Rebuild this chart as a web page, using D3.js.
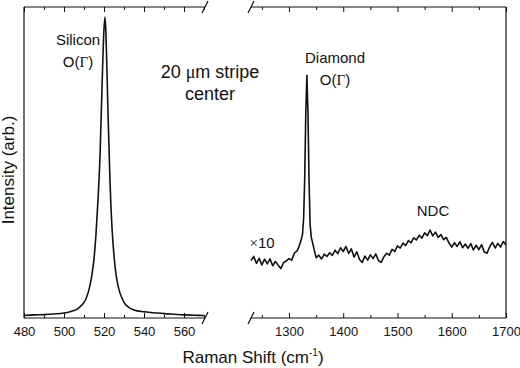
<!DOCTYPE html>
<html>
<head>
<meta charset="utf-8">
<script src="https://cdn.jsdelivr.net/npm/d3@7"></script>
<style>
  body { margin: 0; background: #fff; }
  text { font-family: "Liberation Sans", Arial, sans-serif; fill: #111; }
  .serif { font-family: "Liberation Serif", "Times New Roman", serif; }
  .axis text { font-size: 13px; }
  .axis line { stroke: #111; stroke-width: 1; }
</style>
</head>
<body>
<svg id="chart" width="520" height="368"></svg>
<script>
// silicon region, Raman shift (cm-1) and intensity (arb., 0-100)
var siShift = [480, 485, 490, 495, 500, 503, 505, 507, 508, 510, 511, 512, 513, 514, 515, 516, 517, 518, 519, 520, 520.5,
  521, 522, 523, 524, 525, 526, 527, 528, 529, 530, 532, 535, 540, 545, 550, 555, 560, 565, 570];
var siVal = [0.8, 1.0, 1.1, 1.3, 1.6, 2.0, 2.4, 3.0, 3.6, 5.0, 6.2, 8.0, 10.5, 14, 19, 27, 38, 52, 74, 93, 96.8,
  91, 66, 44, 29, 20, 14, 10.5, 8.0, 6.4, 5.0, 3.6, 2.6, 2.0, 1.7, 1.4, 1.2, 1.0, 0.9, 0.8];

// diamond region (x10)
var dShift = [1230, 1235, 1240, 1245, 1250, 1255, 1260, 1265, 1270, 1275, 1280, 1285, 1290, 1295, 1300, 1305,
  1310, 1315, 1318, 1322, 1325, 1327, 1329, 1331, 1333, 1335, 1337, 1339, 1341, 1343, 1346, 1350,
  1355, 1360, 1365, 1370, 1375, 1380, 1385, 1390, 1395, 1400, 1405, 1410, 1415, 1420, 1425, 1430,
  1435, 1440, 1445, 1450, 1455, 1460, 1465, 1470, 1475, 1480, 1485, 1490, 1495, 1500, 1505, 1510,
  1515, 1520, 1525, 1530, 1535, 1540, 1545, 1550, 1555, 1560, 1565, 1570, 1575, 1580, 1585, 1590,
  1595, 1600, 1605, 1610, 1615, 1620, 1625, 1630, 1635, 1640, 1645, 1650, 1655, 1660, 1665, 1670,
  1675, 1680, 1685, 1690, 1695, 1700];
var dVal = [18.5, 19.8, 17.6, 19.2, 17.1, 18.9, 17.4, 19.0, 16.8, 18.2, 17.0, 15.9, 17.8, 18.4, 19.1, 18.6,
  20.9, 21.6, 22.8, 24.8, 27, 32, 45, 66, 78, 66, 44, 30, 26, 24.6, 22.3, 19.4,
  20.2, 19.0, 20.5, 19.8, 21.0, 20.1, 21.8, 20.7, 22.6, 21.4, 23.0, 20.8, 22.2, 19.6, 21.3, 18.8,
  17.9, 19.9, 18.6, 20.3, 19.1, 20.6, 18.4, 17.9, 19.7, 20.8, 20.2, 22.1, 21.4, 23.2, 22.5, 24.1,
  23.3, 24.9, 24.2, 25.8, 25.1, 26.6, 25.7, 27.4, 26.5, 28.3, 26.4, 27.6, 25.9, 26.8, 25.2, 25.9,
  24.1, 22.8, 24.2, 23.0, 24.5, 22.6, 23.8, 22.4, 23.9, 21.9, 23.4, 22.0, 23.6, 21.2, 20.8, 22.9,
  24.3, 22.5, 24.0, 22.8, 24.6, 23.5];

var leftMajor = [480, 500, 520, 540, 560];
var leftMinor = [490, 510, 530, 550, 570];
var rightMajor = [1300, 1400, 1500, 1600, 1700];
var rightMinor = [1250, 1350, 1450, 1550, 1650];

var svg = d3.select("#chart");
var yTop = 7, yBot = 318;

var xL = d3.scaleLinear().domain([480, 570.5]).range([24, 205]);
var xR = d3.scaleLinear().domain([1230, 1700]).range([251, 506]);
var y = d3.scaleLinear().domain([0, 100]).range([yBot, yTop]);

function axes(x, major, minor) {
  var g = svg.append("g").attr("class", "axis");
  g.append("g").attr("transform", "translate(0," + yBot + ")")
    .call(d3.axisBottom(x).tickValues(major).tickSize(-5).tickPadding(9).tickFormat(d3.format("d")))
    .call(a => a.select(".domain").remove());
  g.append("g").attr("transform", "translate(0," + yBot + ")")
    .call(d3.axisBottom(x).tickValues(minor).tickSize(-3).tickFormat(""))
    .call(a => a.select(".domain").remove());
  g.append("g").attr("transform", "translate(0," + yTop + ")")
    .call(d3.axisTop(x).tickValues(major).tickSize(-5).tickFormat(""))
    .call(a => a.select(".domain").remove());
  g.append("g").attr("transform", "translate(0," + yTop + ")")
    .call(d3.axisTop(x).tickValues(minor).tickSize(-3).tickFormat(""))
    .call(a => a.select(".domain").remove());
  g.selectAll("text").attr("fill", "#111");
}
axes(xL, leftMajor, leftMinor);
axes(xR, rightMajor, rightMinor);

// frame lines
var frame = svg.append("g").attr("stroke", "#111").attr("stroke-width", 1.2).attr("fill", "none");
var l0 = xL.range()[0], l1 = xL.range()[1], r0 = xR.range()[0], r1 = xR.range()[1];
frame.append("line").attr("x1", l0).attr("x2", l1).attr("y1", yBot).attr("y2", yBot);
frame.append("line").attr("x1", l0).attr("x2", l1).attr("y1", yTop).attr("y2", yTop);
frame.append("line").attr("x1", l0).attr("x2", l0).attr("y1", yTop).attr("y2", yBot);
frame.append("line").attr("x1", r0).attr("x2", r1).attr("y1", yBot).attr("y2", yBot);
frame.append("line").attr("x1", r0).attr("x2", r1).attr("y1", yTop).attr("y2", yTop);
frame.append("line").attr("x1", r1).attr("x2", r1).attr("y1", yTop).attr("y2", yBot);

// break marks
[l1, r0].forEach(function (bx) {
  [yTop, yBot].forEach(function (by) {
    frame.append("line").attr("x1", bx - 3).attr("y1", by + 6).attr("x2", bx + 3).attr("y2", by - 6);
  });
});

// spectra
var lineL = d3.line().curve(d3.curveMonotoneX).x((d, i) => xL(siShift[i])).y(d => y(d));
var lineR = d3.line().x((d, i) => xR(dShift[i])).y(d => y(d));
svg.append("path").attr("d", lineL(siVal)).attr("fill", "none").attr("stroke", "#111").attr("stroke-width", 1.6);
svg.append("path").attr("d", lineR(dVal)).attr("fill", "none").attr("stroke", "#111").attr("stroke-width", 1.6)
  .attr("stroke-linejoin", "round");

// labels
function label(x, yy, size, parts) {
  var t = svg.append("text").attr("x", x).attr("y", yy).attr("text-anchor", "middle").attr("font-size", size);
  parts.forEach(function (p) {
    var s = t.append("tspan").text(p[0]);
    if (p[1]) s.attr("class", "serif");
  });
  return t;
}
label(78, 45, 15, [["Silicon"]]);
label(78, 67, 15, [["O("], ["\u0393", true], [")"]]);
label(210, 78, 18, [["20 "], ["\u03bc", true], ["m stripe"]]);
label(210, 100, 18, [["center"]]);
label(335, 63, 15, [["Diamond"]]);
label(335, 85, 15, [["O("], ["\u0393", true], [")"]]);
label(262, 248, 15, [["\u00d7", true], ["10"]]);
label(433, 216, 15, [["NDC"]]);

svg.append("text").attr("transform", "translate(14,170) rotate(-90)").attr("text-anchor", "middle")
  .attr("font-size", 17).text("Intensity (arb.)");

var xl = svg.append("text").attr("x", 253).attr("y", 363).attr("text-anchor", "middle").attr("font-size", 17);
xl.append("tspan").text("Raman Shift (cm");
xl.append("tspan").attr("dy", -7).attr("font-size", 10).text("-1");
xl.append("tspan").attr("dy", 7).text(")");
</script>
</body>
</html>
